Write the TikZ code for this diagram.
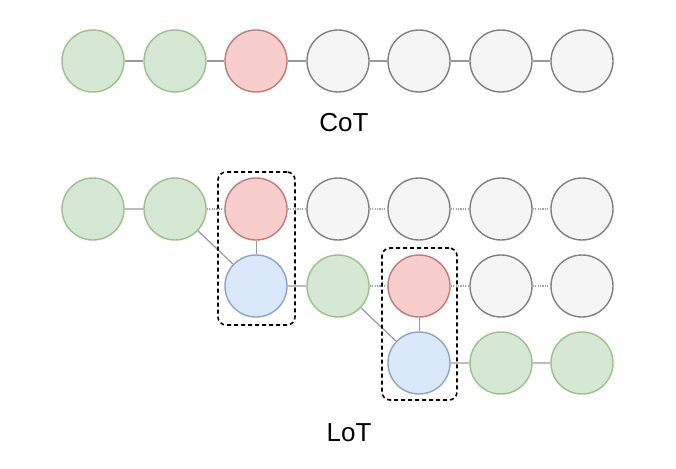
\documentclass[tikz,border=0pt]{standalone}
\usepackage{fontspec}
\setmainfont{Liberation Sans}
\usetikzlibrary{positioning}
\definecolor{gfill}{HTML}{D5E8D4}\definecolor{gline}{HTML}{9CC08A}
\definecolor{rfill}{HTML}{F8CECC}\definecolor{rline}{HTML}{C07A77}
\definecolor{bfill}{HTML}{DAE8FC}\definecolor{bline}{HTML}{8AA4CC}
\definecolor{wfill}{HTML}{F5F5F5}\definecolor{wline}{HTML}{808080}
\begin{document}
\begin{tikzpicture}[x=1pt,y=-1pt,
  tok/.style={circle,minimum size=62pt,inner sep=0pt,line width=1.4pt},
  ok/.style={tok,draw=gline,fill=gfill},
  err/.style={tok,draw=rline,fill=rfill},
  fix/.style={tok,draw=bline,fill=bfill},
  todo/.style={tok,draw=wline,fill=wfill},
  link/.style={draw=black!40,line width=1.2pt},
  skip/.style={draw=black!35,line width=1.1pt,dash pattern=on 1.2pt off 1.2pt},
  hop/.style={draw=black!40,line width=0.8pt},
  group/.style={draw,line width=1.6pt,dash pattern=on 4pt off 3pt,rounded corners=8pt},
  lbl/.style={font=\fontsize{26}{30}\selectfont}]
\useasboundingbox (0,0) rectangle (676,468);
% CoT: one straight chain
\node[ok] (c1) at (93,61) {};
\node[ok] (c2) at (175,61) {};
\node[err] (c3) at (256,61) {};
\node[todo] (c4) at (338,61) {};
\node[todo] (c5) at (419,61) {};
\node[todo] (c6) at (501,61) {};
\node[todo] (c7) at (582,61) {};
\draw[link] (c1) -- (c2) (c2) -- (c3) (c3) -- (c4) (c4) -- (c5) (c5) -- (c6) (c6) -- (c7);
\node[lbl] (cot) at (344,123) {CoT};
% LoT: first row
\node[ok] (a1) at (93,209) {};
\node[ok] (a2) at (175,209) {};
\node[err] (a3) at (256,209) {};
\node[todo] (a4) at (338,209) {};
\node[todo] (a5) at (419,209) {};
\node[todo] (a6) at (501,209) {};
\node[todo] (a7) at (582,209) {};
% second row
\node[fix] (b3) at (256,286) {};
\node[ok] (b4) at (338,286) {};
\node[err] (b5) at (419,286) {};
\node[todo] (b6) at (501,286) {};
\node[todo] (b7) at (582,286) {};
% third row
\node[fix] (d5) at (419,363) {};
\node[ok] (d6) at (501,363) {};
\node[ok] (d7) at (582,363) {};
\draw[link] (a1) -- (a2) (a2) -- (b3) (b3) -- (b4) (b4) -- (d5) (d5) -- (d6) (d6) -- (d7);
\draw[skip] (a2) -- (a3) (a3) -- (a4) (a4) -- (a5) (a5) -- (a6) (a6) -- (a7);
\draw[skip] (b4) -- (b5) (b5) -- (b6) (b6) -- (b7);
\draw[hop] (a3) -- (b3) (b5) -- (d5);
\node[group,minimum width=77pt,minimum height=153pt] (box1) at (256.5,248.5) {};
\node[group,minimum width=75pt,minimum height=152pt] (box2) at (419.5,324) {};
\node[lbl] (lot) at (349,433) {LoT};
\end{tikzpicture}
\end{document}
